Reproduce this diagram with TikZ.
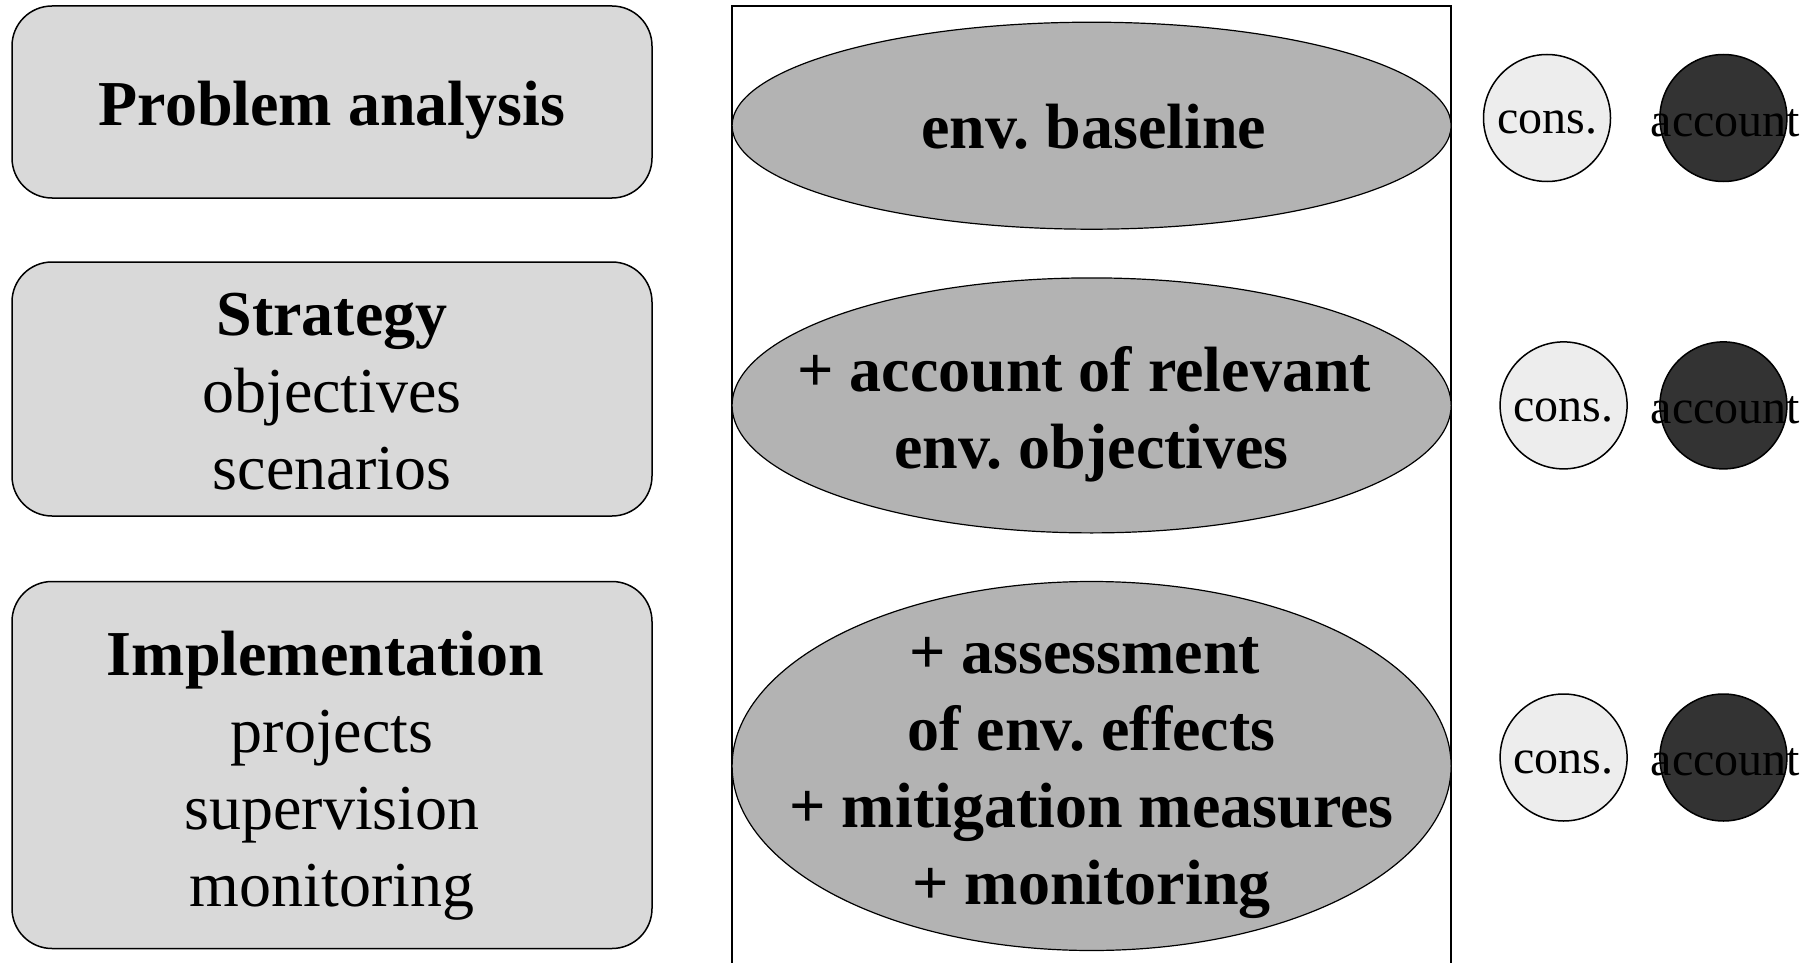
\documentclass[tikz,border=0pt]{standalone}
\usepackage{fontspec}
\setmainfont{Liberation Serif}
\usetikzlibrary{shapes.geometric}
\definecolor{boxgray}{HTML}{D9D9D9}
\definecolor{ellgray}{HTML}{B3B3B3}
\definecolor{consfill}{HTML}{EDEDED}
\definecolor{accfill}{HTML}{333333}
\begin{document}
\frenchspacing
\begin{tikzpicture}[x=1pt,y=-1pt,
  stagebox/.style={draw, line width=1.5pt, fill=boxgray, rounded corners=40pt,
    minimum width=640pt, inner sep=0pt},
  bigtext/.style={align=center, inner sep=0pt, font=\fontsize{64}{77}\selectfont},
  elltext/.style={bigtext, font=\fontsize{64}{77}\selectfont\bfseries},
  ellnode/.style={draw, line width=1.2pt, fill=ellgray, ellipse, inner sep=0pt,
    minimum width=719pt},
  conscirc/.style={draw, line width=1.5pt, fill=consfill, circle, inner sep=0pt,
    minimum size=127pt},
  acccirc/.style={draw, line width=1.5pt, fill=accfill, circle, inner sep=0pt,
    minimum size=127pt},
  circtext/.style={inner sep=0pt, font=\fontsize{48}{56}\selectfont}
]
\useasboundingbox (0,0) rectangle (1816,963);
% stage boxes
\node[stagebox, minimum height=192pt] (pa) at (332,102) {};
\node[bigtext, yshift=-8pt] (pat) at (pa) {\textbf{Problem analysis}};
\node[stagebox, minimum height=254pt] (st) at (332,389) {};
\node[bigtext, yshift=-3pt] (stt) at (st) {\textbf{Strategy}\\objectives\\scenarios};
\node[stagebox, minimum height=367pt] (im) at (332,765) {};
\node[bigtext, yshift=-11pt] (imt) at (im) {\textbf{Implementation}\hspace*{13pt}\\projects\\supervision\\monitoring};
% frame
\coordinate (fl) at (732,963);
\coordinate (fr) at (1451,963);
\coordinate (ftr) at (1451,5.8);
\draw[line width=1.5pt] (fl) |- (ftr) -- (fr);
% ellipses
\node[ellnode, minimum height=207pt] (e1) at (1091.6,125.7) {};
\node[elltext, yshift=-1pt, xshift=2pt] (e1t) at (e1) {env. baseline};
\node[ellnode, minimum height=255pt] (e2) at (1091.6,405.4) {};
\node[elltext, yshift=-9pt] (e2t) at (e2) {+ account of relevant\hspace*{15pt}\\env. objectives};
\node[ellnode, minimum height=369pt] (e3) at (1091.6,766) {};
\node[elltext, yshift=-12pt] (e3t) at (e3) {+ assessment\hspace*{14pt}\\of env. effects\\+ mitigation measures\\+ monitoring};
% circles
\node[conscirc] (c1) at (1547,118) {};
\node[circtext, yshift=-5pt] (c1t) at (c1) {cons.};
\node[acccirc] (a1) at (1723.4,118) {};
\node[circtext, yshift=-5pt, xshift=2pt] (a1t) at (a1) {account};
\node[conscirc] (c2) at (1563.6,405.4) {};
\node[circtext, yshift=-5pt] (c2t) at (c2) {cons.};
\node[acccirc] (a2) at (1723.4,405.4) {};
\node[circtext, yshift=-5pt, xshift=2pt] (a2t) at (a2) {account};
\node[conscirc] (c3) at (1563.6,757.5) {};
\node[circtext, yshift=-5pt] (c3t) at (c3) {cons.};
\node[acccirc] (a3) at (1723.4,757.5) {};
\node[circtext, yshift=-5pt, xshift=2pt] (a3t) at (a3) {account};
\end{tikzpicture}
\end{document}
